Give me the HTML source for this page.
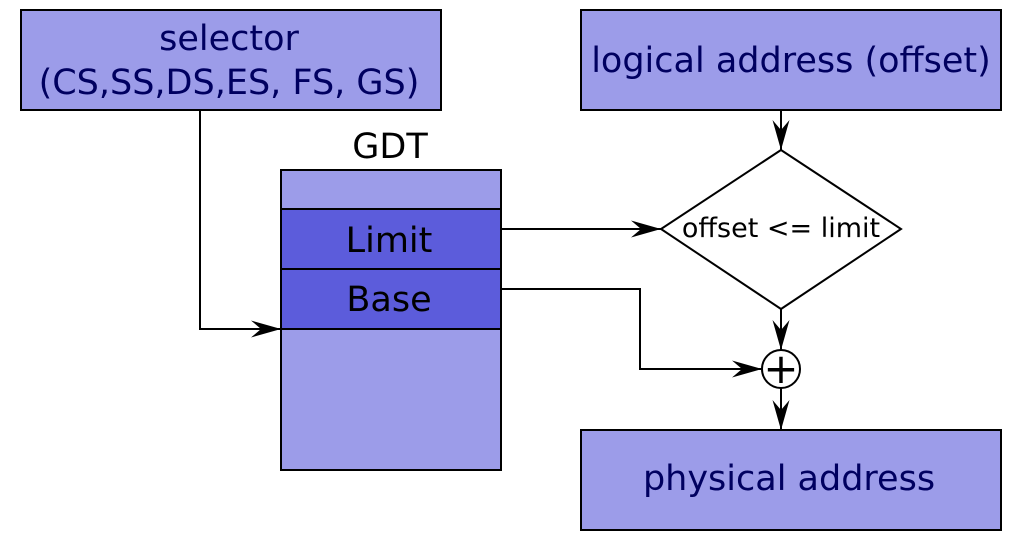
<!DOCTYPE html>
<html><head><meta charset="utf-8"><style>
html,body{margin:0;padding:0;background:#fff;}
svg{display:block;}
text{font-family:"DejaVu Sans","Liberation Sans",sans-serif;}
</style></head><body>
<svg width="1028" height="550" viewBox="0 0 1028 550" xmlns="http://www.w3.org/2000/svg">
<defs>
<marker id="ah" viewBox="0 0 30 17" refX="30" refY="8.5" markerWidth="30" markerHeight="17" markerUnits="userSpaceOnUse" orient="auto">
<path d="M0,0 L30,8.5 L0,17 L10,8.5 Z" fill="#000"/>
</marker>
</defs>
<g>
<rect x="21" y="10" width="420" height="100" fill="#9c9ce9" stroke="#000" stroke-width="2"/>
<text x="229" y="50" style="font-size:35px" text-anchor="middle" fill="#000060">selector</text>
<text x="229" y="94" style="font-size:35px" text-anchor="middle" fill="#000060">(CS,SS,DS,ES, FS, GS)</text>
</g>
<g>
<rect x="581" y="10" width="420" height="100" fill="#9c9ce9" stroke="#000" stroke-width="2"/>
<text x="791" y="72" style="font-size:35px" text-anchor="middle" fill="#000060">logical address (offset)</text>
</g>
<text x="390" y="158" style="font-size:35px" text-anchor="middle" fill="#000">GDT</text>
<rect x="281" y="170" width="220" height="300" fill="#9c9ce9" stroke="#000" stroke-width="2"/>
<g>
<rect x="281" y="209" width="220" height="60" fill="#5c5cdb" stroke="#000" stroke-width="2"/>
<text x="389" y="252" style="font-size:35px" text-anchor="middle" fill="#000">Limit</text>
</g>
<g>
<rect x="281" y="269" width="220" height="60" fill="#5c5cdb" stroke="#000" stroke-width="2"/>
<text x="389" y="311" style="font-size:35px" text-anchor="middle" fill="#000">Base</text>
</g>
<g>
<polygon points="781,150 901,229 781,309 661,229" fill="#fff" stroke="#000" stroke-width="2"/>
<text x="781" y="237" style="font-size:27px" text-anchor="middle" fill="#000">offset &lt;= limit</text>
</g>
<g>
<circle cx="781" cy="369" r="19" fill="#fff" stroke="#000" stroke-width="2"/>
<text x="781" y="383" style="font-size:42px" text-anchor="middle" fill="#000">+</text>
</g>
<g>
<rect x="581" y="430" width="420" height="100" fill="#9c9ce9" stroke="#000" stroke-width="2"/>
<text x="789" y="490" style="font-size:35px" text-anchor="middle" fill="#000060">physical address</text>
</g>
<g fill="none" stroke="#000" stroke-width="2">
<path d="M200,110 L200,329 L281,329" marker-end="url(#ah)"/>
<path d="M501,229 L661,229" marker-end="url(#ah)"/>
<path d="M501,289 L640,289 L640,369 L762,369" marker-end="url(#ah)"/>
<path d="M781,110 L781,150" marker-end="url(#ah)"/>
<path d="M781,309 L781,350" marker-end="url(#ah)"/>
<path d="M781,388 L781,430" marker-end="url(#ah)"/>
</g>
</svg>
</body></html>
